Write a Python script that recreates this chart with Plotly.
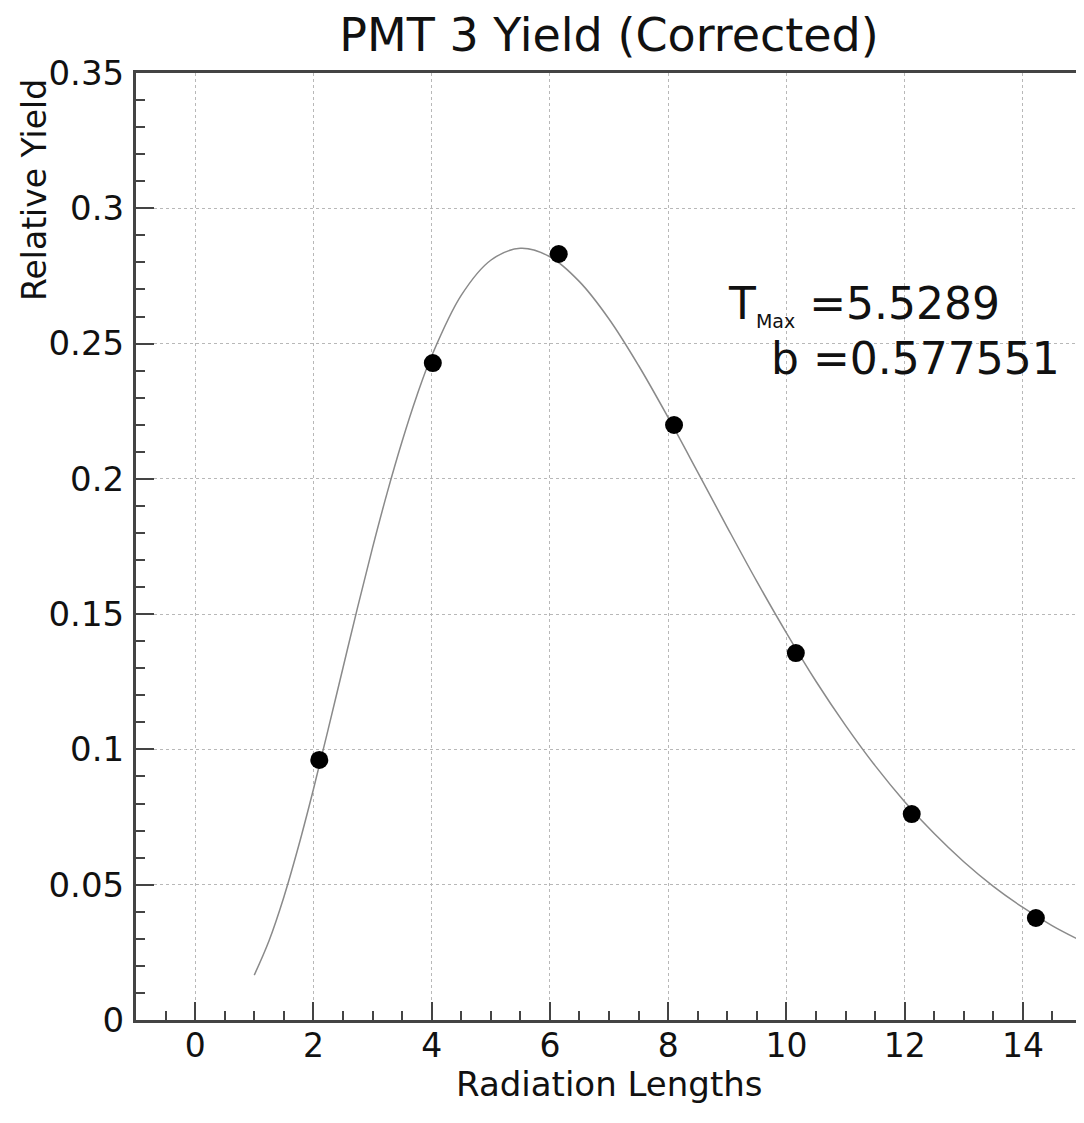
import plotly.graph_objects as go

# Measured data points
radiation_lengths = [2.10, 4.02, 6.15, 8.10, 10.16, 12.12, 14.22]
relative_yield = [0.0961, 0.2428, 0.2831, 0.2199, 0.1356, 0.0761, 0.0377]

# Fit curve
curve_x = [1.0, 1.25, 1.5, 1.75, 2.0, 2.25, 2.5, 2.75, 3.0, 3.25, 3.5, 3.75,
           4.0, 4.5, 5.0, 5.5, 6.0, 6.5, 7.0, 7.5,
           8.0, 8.5, 9.0, 9.5, 10.0, 10.5, 11.0, 11.5, 12.0, 12.5, 13.0, 13.5,
           14.0, 14.5, 15.0]
curve_y = [0.0166, 0.0293, 0.0454, 0.0643, 0.0852, 0.1074, 0.1301, 0.1527,
           0.1745, 0.1950, 0.2138, 0.2307, 0.2454, 0.2678,
           0.2808, 0.2852, 0.2821, 0.2729, 0.2591, 0.2419, 0.2227, 0.2025,
           0.1821, 0.1621, 0.1431, 0.1252, 0.1089, 0.0940, 0.0807, 0.0689,
           0.0585, 0.0494, 0.0416, 0.0348, 0.0291]

title_text = "PMT 3 Yield (Corrected)"
x_title = "Radiation Lengths"
y_title = "Relative Yield"
fit_line1 = 'T<sub><span style="font-size:19px">Max</span></sub> =5.5289'
fit_line2 = "b =0.577551"

FONT = "DejaVu Sans"
AX = "#444444"
TXT = "#111111"

# page body has an 8px default margin; compensate in figure size
W, H = 1076, 1115
L, R, T, B = 128, 2, 65, 103
plot_h = H - T - B

fig = go.Figure()
fig.add_trace(go.Scatter(x=curve_x, y=curve_y, mode="lines",
                         line=dict(color="#8a8a8a", width=1.5, shape="spline"),
                         hoverinfo="skip", showlegend=False))
fig.add_trace(go.Scatter(x=radiation_lengths, y=relative_yield, mode="markers",
                         marker=dict(color="black", size=18, symbol="circle"),
                         showlegend=False))

axis_common = dict(
    showline=True, linecolor=AX, linewidth=3, mirror=True,
    ticks="inside", ticklen=18, tickwidth=1.5, tickcolor=AX,
    showgrid=True, gridcolor="#b8b8b8", griddash="dot", gridwidth=1,
    zeroline=False,
)

fig.update_xaxes(range=[-1, 15], tick0=0, dtick=2,
                 minor=dict(ticks="inside", ticklen=9, dtick=0.5, tick0=0,
                            tickcolor=AX, tickwidth=1.5, showgrid=False),
                 ticklabelstandoff=-6,
                 tickfont=dict(family=FONT, size=33, color=TXT),
                 **axis_common)
fig.update_yaxes(range=[0, 0.35], tick0=0, dtick=0.05,
                 minor=dict(ticks="inside", ticklen=9, dtick=0.01, tick0=0,
                            tickcolor=AX, tickwidth=1.5, showgrid=False),
                 ticklabelstandoff=2,
                 tickfont=dict(family=FONT, size=34, color=TXT),
                 **axis_common)

fig.add_annotation(text=y_title, xref="paper", yref="paper",
                   x=-(L - 27) / (W - L - R), y=1 - 4 / plot_h,
                   xanchor="center", yanchor="top", textangle=-90, showarrow=False,
                   font=dict(family=FONT, size=33, color=TXT))
fig.add_annotation(text=x_title, xref="paper", yref="paper",
                   x=0.5, y=-(1076 - (T + plot_h)) / plot_h,
                   xanchor="center", yanchor="middle", showarrow=False,
                   font=dict(family=FONT, size=34, color=TXT))
fig.add_annotation(text=fit_line1, xref="x", yref="y", x=8.98, y=0.2642,
                   xanchor="left", yanchor="middle", showarrow=False,
                   font=dict(family=FONT, size=44, color=TXT))
fig.add_annotation(text=fit_line2, xref="x", yref="y", x=9.71, y=0.2446,
                   xanchor="left", yanchor="middle", showarrow=False,
                   font=dict(family=FONT, size=44, color=TXT))

fig.update_layout(
    width=W, height=H,
    margin=dict(l=L, r=R, t=T, b=B, autoexpand=False),
    paper_bgcolor="white", plot_bgcolor="white",
    title=dict(text=title_text, x=0.5, xref="paper", y=1 - 27 / H,
               yref="container", xanchor="center", yanchor="middle",
               font=dict(family=FONT, size=46, color=TXT)),
)

fig.write_html("out.html")
